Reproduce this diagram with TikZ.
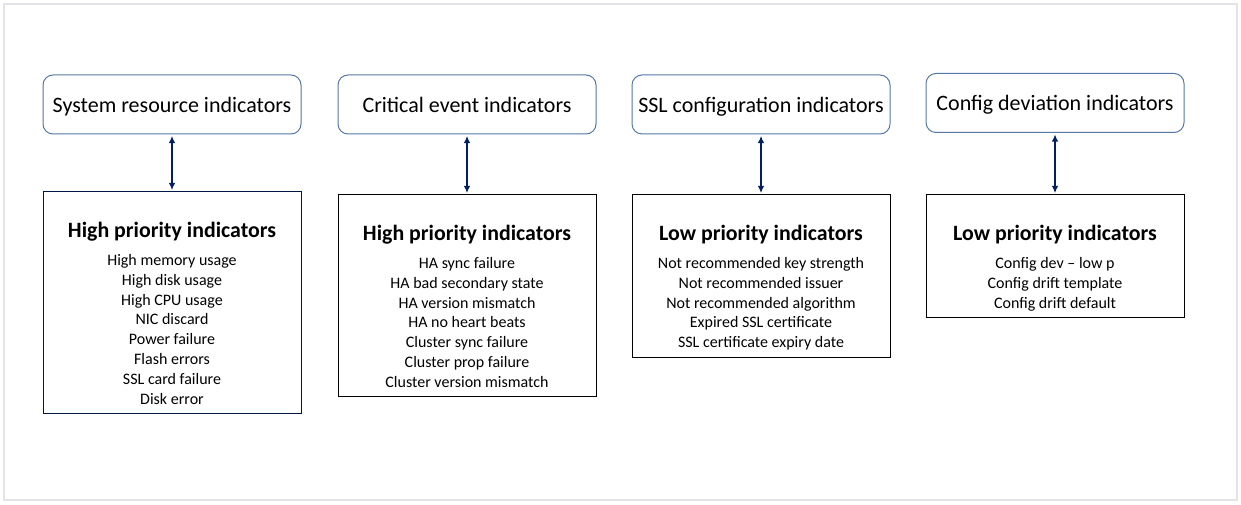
\documentclass[tikz,border=0pt]{standalone}
\usepackage{fontspec}
\setmainfont{Carlito}
\usetikzlibrary{arrows.meta}
\definecolor{navy}{RGB}{0,32,96}
\definecolor{slate}{RGB}{84,120,165}
\definecolor{framegray}{RGB}{226,228,234}
\tikzstyle{groupbox}=[draw=slate, rounded corners=7.5pt, line width=0.75pt, minimum width=193.5pt, minimum height=44.25pt, text height=13pt, text depth=1.6pt, font=\fontsize{16.5}{19}\selectfont]
\tikzstyle{listbox}=[draw=black, line width=0.75pt, minimum width=193.5pt]
\tikzstyle{heading}=[font=\bfseries\fontsize{16.4}{19}\selectfont]
\tikzstyle{items}=[anchor=north, align=center, inner sep=0pt, font=\fontsize{12}{14.9}\selectfont]
\tikzstyle{link}=[navy, line width=1.5pt, shorten <=1pt, shorten >=1pt, {Latex[length=5.5pt,width=5pt]}-{Latex[length=5.5pt,width=5pt]}]

\begin{document}
\begin{tikzpicture}[x=0.75pt,y=-0.75pt]
	\useasboundingbox (0,0) rectangle (1241,505);
	\draw[framegray, line width=1.2pt] (4,4) rectangle (1237,500);
	% indicator groups
	\node[groupbox] (sys) at (172,104.5) {System resource indicators};
	\node[groupbox] (crit) at (467,104.5) {Critical event indicators};
	\node[groupbox] (ssl) at (761,104.5) {SSL configuration indicators};
	\node[groupbox] (cfg) at (1055,103) {Config deviation indicators};
	% priority lists
	\node[listbox, draw=navy!70!black, minimum height=166.5pt] (sysl) at (172,303) {};
	\node[listbox, minimum height=151.5pt] (critl) at (467,296) {};
	\node[listbox, minimum height=122.25pt] (ssll) at (761,276.5) {};
	\node[listbox, minimum height=92.25pt] (cfgl) at (1055,256.5) {};
	\node[heading] (syst) at (172,231.5) {High priority indicators};
	\node[heading] (critt) at (467,234.5) {High priority indicators};
	\node[heading] (sslt) at (761,234.5) {Low priority indicators};
	\node[heading] (cfgt) at (1055,234.5) {Low priority indicators};
	\node[items] (sysi) at (172,254) {High memory usage\\High disk usage\\High CPU usage\\NIC discard\\Power failure\\Flash errors\\SSL card failure\\Disk error};
	\node[items] (criti) at (467,257) {HA sync failure\\HA bad secondary state\\HA version mismatch\\HA no heart beats\\Cluster sync failure\\Cluster prop failure\\Cluster version mismatch};
	\node[items] (ssli) at (761,257) {Not recommended key strength\\Not recommended issuer\\Not recommended algorithm\\Expired SSL certificate\\SSL certificate expiry date};
	\node[items] (cfgi) at (1055,257) {Config dev -- low p\\Config drift template\\Config drift default};
	% links
	\draw[link] (sys) -- (sysl);
	\draw[link] (crit) -- (critl);
	\draw[link] (ssl) -- (ssll);
	\draw[link] (cfg) -- (cfgl);
\end{tikzpicture}
\end{document}
